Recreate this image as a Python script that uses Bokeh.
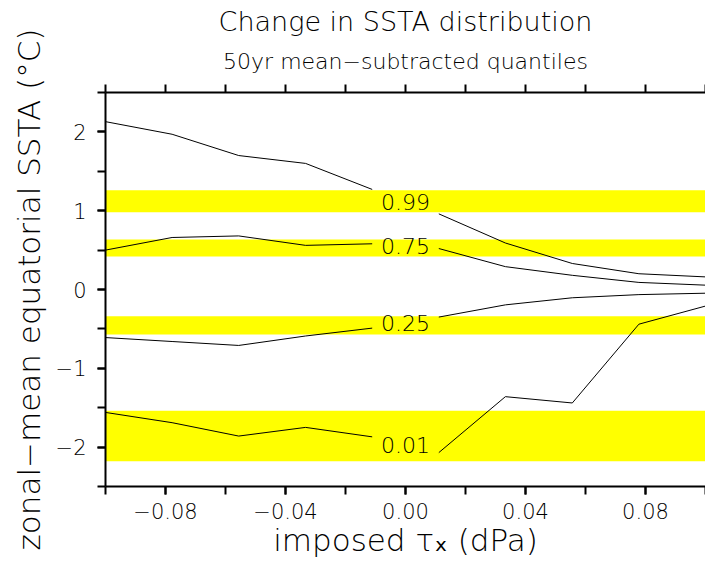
from bokeh.plotting import figure
from bokeh.models import (LinearAxis, FixedTicker, CustomJSTickFormatter,
                          Title, Label, Range1d)
from bokeh.embed import file_html
from bokeh.resources import INLINE

# imposed zonal wind-stress anomaly (dPa)
tau_x = [-0.1, -0.0778, -0.0556, -0.0333, -0.0111, 0.0111, 0.0333, 0.0556, 0.0778, 0.1]

# change of each SSTA quantile relative to the 50yr mean (degC)
q99 = [2.13, 1.97, 1.70, 1.60, 1.27, 0.96, 0.59, 0.33, 0.20, 0.16]
q75 = [0.50, 0.66, 0.68, 0.56, 0.58, 0.52, 0.29, 0.18, 0.09, 0.055]
q25 = [-0.61, -0.66, -0.71, -0.59, -0.49, -0.35, -0.195, -0.105, -0.065, -0.047]
q01 = [-1.56, -1.69, -1.86, -1.75, -1.87, -2.07, -1.36, -1.44, -0.44, -0.21]
quantile_names = ["0.99", "0.75", "0.25", "0.01"]

# shaded reference ranges for the four quantiles (degC)
band_lo = [0.98, 0.42, -0.57, -2.18]
band_hi = [1.26, 0.635, -0.34, -1.54]

x_major = [-0.08, -0.04, 0.0, 0.04, 0.08]
x_minor = [-0.1, -0.08, -0.06, -0.04, -0.02, 0.0, 0.02, 0.04, 0.06, 0.08, 0.1]
y_major = [-2, -1, 0, 1, 2]
y_minor = [-2.5, -2, -1.5, -1, -0.5, 0, 0.5, 1, 1.5, 2, 2.5]

FONT = "DejaVu Sans Light, DejaVu Sans"

p = figure(width=705, height=567,
           x_range=Range1d(-0.1, 0.1), y_range=Range1d(-2.5, 2.5),
           output_backend="svg", toolbar_location=None,
           min_border_left=105, min_border_right=0,
           min_border_top=92, min_border_bottom=81,
           x_axis_type=None, y_axis_type=None)
p.outline_line_color = None
p.background_fill_color = "white"
p.border_fill_color = "white"
p.xgrid.visible = False
p.ygrid.visible = False

# quantile reference bands
p.quad(left=min(tau_x), right=max(tau_x), bottom=band_lo, top=band_hi,
       fill_color="#ffff00", line_color=None)

# quantile curves, broken in the middle for the inline label
for series, name in zip([q99, q75, q25, q01], quantile_names):
    p.line(tau_x[:5], series[:5], line_color="black", line_width=1)
    p.line(tau_x[5:], series[5:], line_color="black", line_width=1)
    p.add_layout(Label(x=(tau_x[4] + tau_x[5]) / 2, y=(series[4] + series[5]) / 2,
                       text=name, text_align="center", text_baseline="middle",
                       text_font=FONT, text_font_size="22px", text_color="black"))

fmt_x = CustomJSTickFormatter(code="""
    const s = Math.abs(tick).toFixed(2);
    return (tick < -1e-9 ? '\\u2212' : '') + s;
""")
fmt_y = CustomJSTickFormatter(code="""
    const s = Math.abs(tick).toFixed(0);
    return (tick < -1e-9 ? '\\u2212' : '') + s;
""")


def style_axis(ax):
    ax.axis_line_width = 2
    ax.axis_line_color = "black"
    ax.major_tick_line_width = 2
    ax.minor_tick_line_width = 2
    ax.major_tick_line_color = "black"
    ax.minor_tick_line_color = "black"
    ax.major_tick_in = 0
    ax.minor_tick_in = 0
    ax.major_tick_out = 8
    ax.minor_tick_out = 8
    ax.major_label_text_font = FONT
    ax.major_label_text_font_size = "21px"
    ax.major_label_text_color = "black"
    ax.axis_label_text_font = FONT
    ax.axis_label_text_font_size = "31px"
    ax.axis_label_text_font_style = "normal"
    ax.axis_label_text_color = "black"


xaxis = LinearAxis(ticker=FixedTicker(ticks=x_major, minor_ticks=x_minor),
                   formatter=fmt_x, axis_label="imposed \u03c4\u2093 (dPa)")
style_axis(xaxis)
xaxis.major_label_standoff = 8
xaxis.axis_label_standoff = 0
p.add_layout(xaxis, "below")

yaxis = LinearAxis(ticker=FixedTicker(ticks=y_major, minor_ticks=y_minor),
                   formatter=fmt_y,
                   axis_label="zonal\u2212mean equatorial SSTA (\u00b0C)")
style_axis(yaxis)
yaxis.major_label_standoff = 11
yaxis.axis_label_standoff = 6
p.add_layout(yaxis, "left")

# frame edge along the top: ticks only
topaxis = LinearAxis(ticker=FixedTicker(ticks=[], minor_ticks=x_minor))
style_axis(topaxis)
topaxis.major_label_standoff = 0
p.add_layout(topaxis, "above")

p.add_layout(Title(text="50yr mean\u2212subtracted quantiles", align="center",
                   text_font=FONT, text_font_size="22px", text_font_style="normal",
                   text_color="black", standoff=21), "above")
p.add_layout(Title(text="Change in SSTA distribution", align="center",
                   text_font=FONT, text_font_size="27px", text_font_style="normal",
                   text_color="black", standoff=0), "above")

open("out.html", "w").write(file_html(p, INLINE))
